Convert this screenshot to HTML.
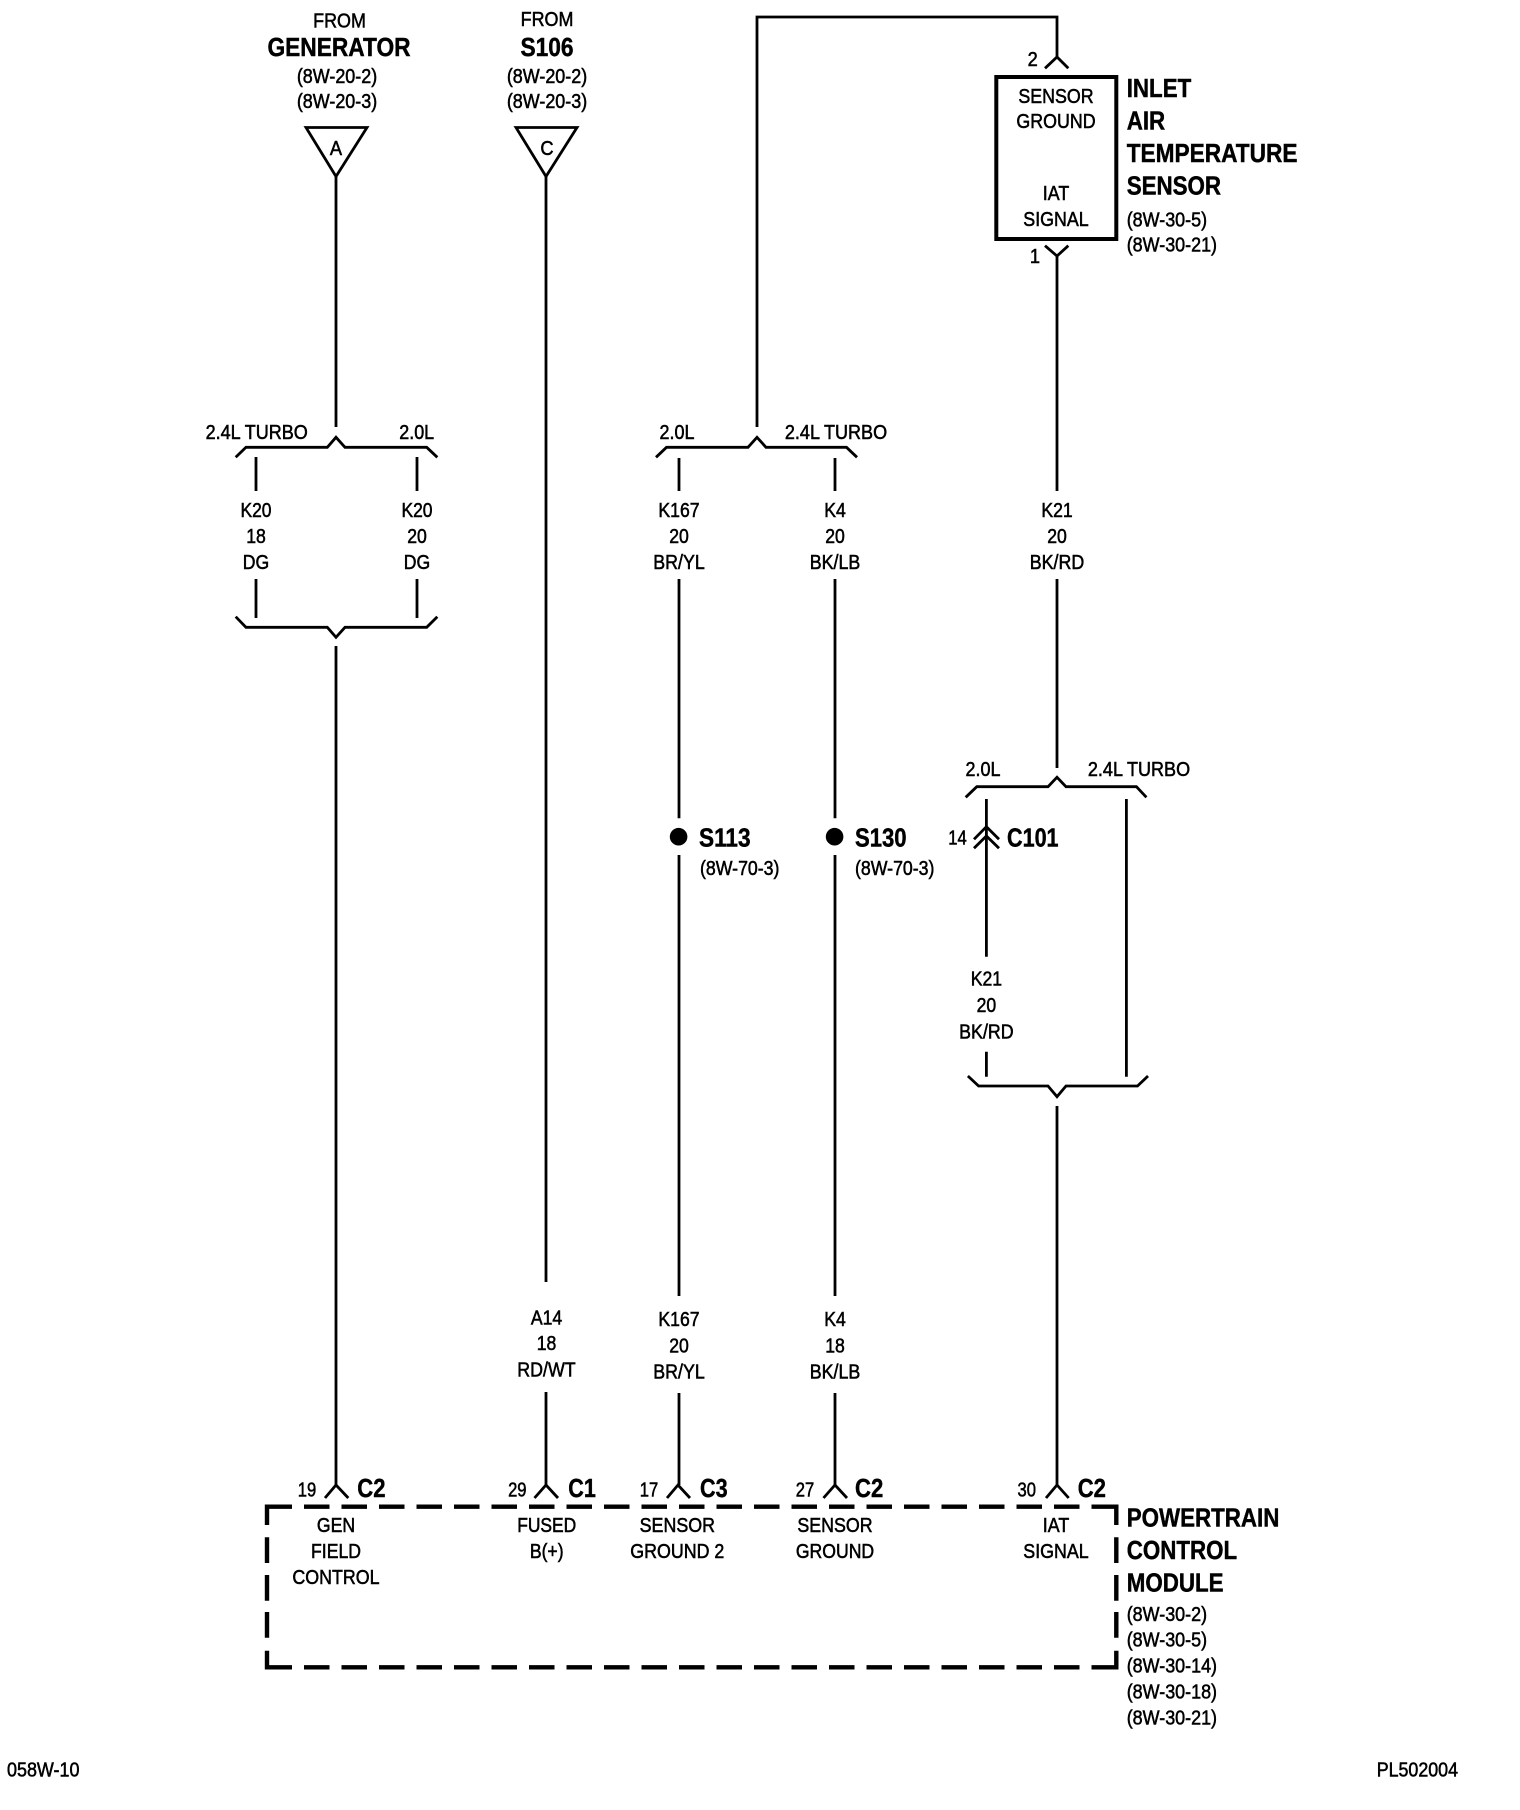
<!DOCTYPE html>
<html>
<head>
<meta charset="utf-8">
<style>
html,body{margin:0;padding:0;background:#fff;width:1520px;height:1810px;overflow:hidden}
svg{display:block}
text{font-family:"Liberation Sans",Arial,sans-serif;fill:#000}
.r{font-size:20.5px;stroke:#000;stroke-width:.55px}
.m{text-anchor:middle}
.b{font-size:26px;font-weight:bold;stroke:#000;stroke-width:.45px}
.w{fill:none;stroke:#000;stroke-width:2.8}
.d{fill:none;stroke:#000;stroke-width:4.4}
</style>
</head>
<body>
<svg xmlns="http://www.w3.org/2000/svg" width="1520" height="1810" viewBox="0 0 1520 1810">
<rect width="1520" height="1810" fill="#fff"/>

<!-- Triangles -->
<polygon class="w" stroke-width="3" points="306,127.5 367,127.5 336,176.5"/>
<polygon class="w" stroke-width="3" points="516,127.5 577,127.5 546,176.5"/>

<!-- Wires -->
<path class="w" d="M336 175V427M336 646V1485
M546 175V1282M546 1392V1485
M757 427V17H1057V57
M1057 256V491M1057 579V768
M256 457V491M256 579V618M417 457V491M417 579V618
M679 458V491M679 579V818.3M679 855V1296M679 1393V1485
M835 458V491M835 579V818.3M835 855V1296M835 1393V1485
M986.4 799V956.7M986.4 1051.7V1076.7M1126.4 799V1076.7
M1057 1106V1485"/>

<!-- Brackets -->
<polyline class="w" points="235.7,457.3 246,447.3 327.3,447.3 336,437.3 345,447.3 426.7,447.3 437.3,457.3"/>
<polyline class="w" points="235.7,616.7 246,627.3 327.3,627.3 336,637.3 345,627.3 426.7,627.3 437.3,616.7"/>
<polyline class="w" points="656,457.3 666.5,447.3 748,447.3 757,437.3 766,447.3 846.5,447.3 857,457.3"/>
<polyline class="w" points="965.7,797.3 976.8,786.7 1048,786.7 1057,777.3 1066,786.7 1136.4,786.7 1146.4,797.3"/>
<polyline class="w" points="967.9,1076 978.6,1086 1048,1086 1057,1096.7 1066,1086 1137.5,1086 1148,1076"/>

<!-- Sensor box & chevrons -->
<rect x="996.3" y="77" width="120" height="162" fill="none" stroke="#000" stroke-width="4"/>
<polyline class="w" points="1045,68.3 1057,57 1068.3,68.3"/>
<polyline class="w" points="1045,245.7 1057,256 1068.3,245.7"/>

<!-- C101 chevrons -->
<polyline class="w" points="974,839.3 986.4,826.7 999,839.3"/>
<polyline class="w" points="974,848.3 986.4,836 999,848.3"/>

<!-- Splice dots -->
<circle cx="678.6" cy="836.7" r="8.8"/>
<circle cx="834.6" cy="836.7" r="8.8"/>

<!-- PCM chevrons -->
<polyline class="w" points="325,1498 336,1485 348.3,1498"/>
<polyline class="w" points="534.5,1498 546,1485 558,1498"/>
<polyline class="w" points="667,1498 678,1485 690,1498"/>
<polyline class="w" points="823.5,1498 835,1485 847,1498"/>
<polyline class="w" points="1046,1498 1057,1485 1068.7,1498"/>

<!-- PCM dashed box -->
<path class="d" stroke-dasharray="25.5 12" d="M266.5 1506.7H1118M266.5 1667.3H1118"/>
<path class="d" d="M267 1504.5V1525M267 1537.3V1563M267 1575V1600.7M267 1612V1637.7M267 1650.7V1669.5M1116.3 1504.5V1525M1116.3 1537.3V1563M1116.3 1575V1600.7M1116.3 1612V1637.7M1116.3 1650.7V1669.5"/>

<!-- Top labels -->
<text class="r m" transform="translate(339.5 27.3) scale(.875 1)">FROM</text>
<text class="b m" transform="translate(339 56) scale(.875 1)">GENERATOR</text>
<text class="r m" transform="translate(337 83) scale(.875 1)">(8W-20-2)</text>
<text class="r m" transform="translate(337 108) scale(.875 1)">(8W-20-3)</text>
<text class="r m" transform="translate(336 155) scale(.89 1)">A</text>
<text class="r m" transform="translate(547 26) scale(.875 1)">FROM</text>
<text class="b m" transform="translate(547 56) scale(.875 1)">S106</text>
<text class="r m" transform="translate(547 83) scale(.875 1)">(8W-20-2)</text>
<text class="r m" transform="translate(547 108) scale(.875 1)">(8W-20-3)</text>
<text class="r m" transform="translate(547 155) scale(.89 1)">C</text>

<!-- Sensor labels -->
<text class="r m" transform="translate(1032.7 66) scale(.89 1)">2</text>
<text class="r m" transform="translate(1035 263) scale(.89 1)">1</text>
<text class="r m" transform="translate(1056 102.8) scale(.87 1)">SENSOR</text>
<text class="r m" transform="translate(1056 128.2) scale(.87 1)">GROUND</text>
<text class="r m" transform="translate(1056 200) scale(.87 1)">IAT</text>
<text class="r m" transform="translate(1056 226.2) scale(.87 1)">SIGNAL</text>
<text class="b" transform="translate(1126.7 97) scale(.86 1)">INLET</text>
<text class="b" transform="translate(1126.7 129.5) scale(.86 1)">AIR</text>
<text class="b" transform="translate(1126.7 162) scale(.872 1)">TEMPERATURE</text>
<text class="b" transform="translate(1126.7 194.5) scale(.86 1)">SENSOR</text>
<text class="r" transform="translate(1126.7 226.7) scale(.875 1)">(8W-30-5)</text>
<text class="r" transform="translate(1126.7 251.7) scale(.875 1)">(8W-30-21)</text>

<!-- Bracket labels -->
<text class="r m" transform="translate(256.7 439) scale(.88 1)">2.4L TURBO</text>
<text class="r m" transform="translate(416.7 439) scale(.875 1)">2.0L</text>
<text class="r m" transform="translate(677 439) scale(.875 1)">2.0L</text>
<text class="r m" transform="translate(836 439) scale(.88 1)">2.4L TURBO</text>
<text class="r m" transform="translate(983 776) scale(.875 1)">2.0L</text>
<text class="r m" transform="translate(1139 776) scale(.88 1)">2.4L TURBO</text>

<!-- Wire labels top -->
<text class="r m" transform="translate(256 517) scale(.85 1)">K20</text>
<text class="r m" transform="translate(256 543) scale(.86 1)">18</text>
<text class="r m" transform="translate(256 569) scale(.86 1)">DG</text>
<text class="r m" transform="translate(417 517) scale(.85 1)">K20</text>
<text class="r m" transform="translate(417 543) scale(.86 1)">20</text>
<text class="r m" transform="translate(417 569) scale(.86 1)">DG</text>
<text class="r m" transform="translate(679 517) scale(.86 1)">K167</text>
<text class="r m" transform="translate(679 543) scale(.86 1)">20</text>
<text class="r m" transform="translate(679 569) scale(.87 1)">BR/YL</text>
<text class="r m" transform="translate(835 517) scale(.86 1)">K4</text>
<text class="r m" transform="translate(835 543) scale(.86 1)">20</text>
<text class="r m" transform="translate(835 569) scale(.87 1)">BK/LB</text>
<text class="r m" transform="translate(1057 517) scale(.86 1)">K21</text>
<text class="r m" transform="translate(1057 543) scale(.86 1)">20</text>
<text class="r m" transform="translate(1057 569) scale(.87 1)">BK/RD</text>

<!-- Splices / C101 -->
<text class="b" transform="translate(699 846.7) scale(.87 1)">S113</text>
<text class="r" transform="translate(700 875) scale(.865 1)">(8W-70-3)</text>
<text class="b" transform="translate(855 846.7) scale(.85 1)">S130</text>
<text class="r" transform="translate(855 875) scale(.865 1)">(8W-70-3)</text>
<text class="r m" transform="translate(957.5 844.3) scale(.81 1)">14</text>
<text class="b" transform="translate(1007 846.7) scale(.83 1)">C101</text>
<text class="r m" transform="translate(986.4 985.5) scale(.86 1)">K21</text>
<text class="r m" transform="translate(986.4 1012.2) scale(.86 1)">20</text>
<text class="r m" transform="translate(986.4 1038.5) scale(.87 1)">BK/RD</text>

<!-- Wire labels bottom -->
<text class="r m" transform="translate(546.5 1324.5) scale(.86 1)">A14</text>
<text class="r m" transform="translate(546.5 1350) scale(.86 1)">18</text>
<text class="r m" transform="translate(546.5 1376.5) scale(.87 1)">RD/WT</text>
<text class="r m" transform="translate(679 1326) scale(.86 1)">K167</text>
<text class="r m" transform="translate(679 1352.5) scale(.86 1)">20</text>
<text class="r m" transform="translate(679 1378.5) scale(.87 1)">BR/YL</text>
<text class="r m" transform="translate(835 1326) scale(.86 1)">K4</text>
<text class="r m" transform="translate(835 1352.5) scale(.86 1)">18</text>
<text class="r m" transform="translate(835 1378.5) scale(.87 1)">BK/LB</text>

<!-- PCM pins -->
<text class="r m" transform="translate(307 1496.7) scale(.81 1)">19</text>
<text class="b" transform="translate(357.3 1497) scale(.85 1)">C2</text>
<text class="r m" transform="translate(517.3 1496.7) scale(.81 1)">29</text>
<text class="b" transform="translate(568.3 1497) scale(.83 1)">C1</text>
<text class="r m" transform="translate(649 1496.7) scale(.81 1)">17</text>
<text class="b" transform="translate(700 1497) scale(.83 1)">C3</text>
<text class="r m" transform="translate(805 1496.7) scale(.81 1)">27</text>
<text class="b" transform="translate(855 1497) scale(.85 1)">C2</text>
<text class="r m" transform="translate(1026.7 1496.7) scale(.81 1)">30</text>
<text class="b" transform="translate(1077.7 1497) scale(.85 1)">C2</text>

<!-- PCM inner labels -->
<text class="r m" transform="translate(336 1532) scale(.86 1)">GEN</text>
<text class="r m" transform="translate(336 1558) scale(.86 1)">FIELD</text>
<text class="r m" transform="translate(336 1584) scale(.87 1)">CONTROL</text>
<text class="r m" transform="translate(546.7 1532) scale(.85 1)">FUSED</text>
<text class="r m" transform="translate(546.7 1558) scale(.86 1)">B(+)</text>
<text class="r m" transform="translate(677.3 1532) scale(.87 1)">SENSOR</text>
<text class="r m" transform="translate(677.3 1558) scale(.87 1)">GROUND 2</text>
<text class="r m" transform="translate(835 1532) scale(.87 1)">SENSOR</text>
<text class="r m" transform="translate(835 1558) scale(.86 1)">GROUND</text>
<text class="r m" transform="translate(1056 1532) scale(.87 1)">IAT</text>
<text class="r m" transform="translate(1056 1558) scale(.87 1)">SIGNAL</text>

<!-- PCM title -->
<text class="b" transform="translate(1126.7 1526.5) scale(.86 1)">POWERTRAIN</text>
<text class="b" transform="translate(1126.7 1559) scale(.86 1)">CONTROL</text>
<text class="b" transform="translate(1126.7 1591.5) scale(.86 1)">MODULE</text>
<text class="r" transform="translate(1126.7 1621) scale(.875 1)">(8W-30-2)</text>
<text class="r" transform="translate(1126.7 1646.7) scale(.875 1)">(8W-30-5)</text>
<text class="r" transform="translate(1126.7 1672.3) scale(.875 1)">(8W-30-14)</text>
<text class="r" transform="translate(1126.7 1698.3) scale(.875 1)">(8W-30-18)</text>
<text class="r" transform="translate(1126.7 1724.3) scale(.875 1)">(8W-30-21)</text>

<!-- Footer -->
<text class="r" transform="translate(7 1776.7) scale(.875 1)">058W-10</text>
<text class="r" transform="translate(1376.7 1776.7) scale(.87 1)">PL502004</text>
</svg>
</body>
</html>
